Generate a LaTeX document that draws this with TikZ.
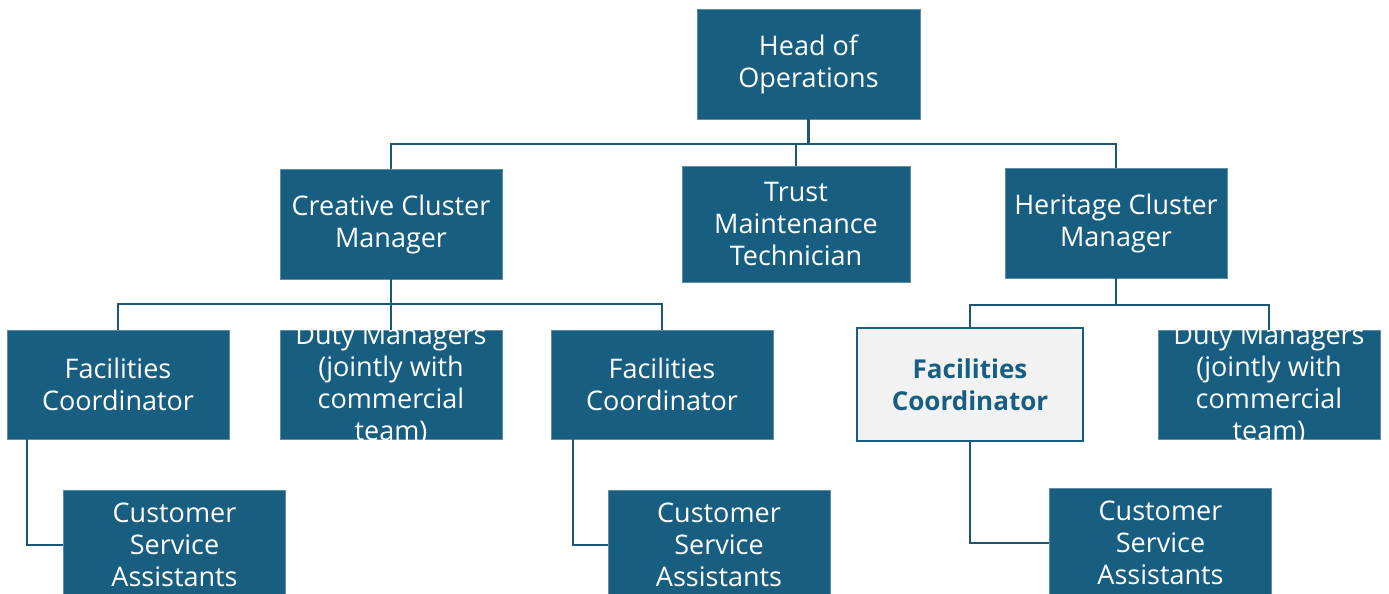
\documentclass[tikz,border=0pt]{standalone}
\usepackage{fontspec}
\setmainfont{Open Sans}
\definecolor{boxblue}{RGB}{23,94,128}
\definecolor{lineblue}{RGB}{28,88,118}
\definecolor{hlfill}{RGB}{242,242,242}
\tikzset{
  box/.style={rectangle, fill=boxblue, draw=boxblue!70!white, line width=0.8pt, inner sep=0pt,
    minimum width=222pt, minimum height=110pt, text=white, align=center,
    font=\fontsize{27}{32}\selectfont},
  boxtext/.style={inner sep=0pt, text=white, align=center, font=\fontsize{27}{32}\selectfont},
  hlbox/.style={box, fill=hlfill, draw=boxblue, line width=2.2pt, text=boxblue,
    font=\fontsize{26}{32}\selectfont\bfseries},
  conn/.style={draw=lineblue, line width=2.6pt}
}
\begin{document}
\begin{tikzpicture}[x=1pt,y=-1pt]
\path[use as bounding box] (0,0) rectangle (1389,594);
\clip (0,0) rectangle (1389,594);
% level 1
\node[box, minimum width=223pt] (head) at (808.5,64) {Head of\\Operations};
% level 2
\node[box] (ccm) at (391,224) {Creative Cluster\\Manager};
\node[box, minimum width=228pt, minimum height=116pt] (tmt) at (796,224) {Trust\\Maintenance\\Technician};
\node[box] (hcm) at (1116,223) {Heritage Cluster\\Manager};
% level 3
\node[box, minimum height=109pt] (fc1) at (118,384.5) {Facilities\\Coordinator};
\node[box, minimum height=109pt] (dm1) at (391,384.5) {};
\begin{scope}
  \clip (dm1.south west) rectangle (dm1.north east);
  \node[boxtext] (dm1t) at (dm1.center) {Duty Managers\\(jointly with\\commercial\\team)};
\end{scope}
\node[box, minimum height=109pt] (fc2) at (662,384.5) {Facilities\\Coordinator};
\node[hlbox, minimum width=226pt, minimum height=113pt] (fc3) at (970,384.5) {Facilities\\Coordinator};
\node[box, minimum height=109pt] (dm2) at (1269,384.5) {};
\begin{scope}
  \clip (dm2.south west) rectangle (dm2.north east);
  \node[boxtext] (dm2t) at (dm2.center) {Duty Managers\\(jointly with\\commercial\\team)};
\end{scope}
% level 4
\node[box] (csa1) at (174.5,545) {Customer\\Service\\Assistants};
\node[box] (csa2) at (719,545) {Customer\\Service\\Assistants};
\node[box] (csa3) at (1160.5,543) {Customer\\Service\\Assistants};
% connectors
\coordinate (j1) at (808.5,144);
\draw[conn] (head.south) -- (j1);
\draw[conn] (j1) -| (ccm.north);
\draw[conn] (j1) -| (hcm.north);
\draw[conn] (tmt.north) -- (tmt.north |- j1);
\coordinate (j2) at (391,304);
\draw[conn] (ccm.south) -- (j2);
\draw[conn] (j2) -| (fc1.north);
\draw[conn] (j2) -| (fc2.north);
\draw[conn] (dm1.north) -- (j2);
\coordinate (j3) at (1116,305);
\draw[conn] (hcm.south) -- (j3);
\draw[conn] (j3) -| (fc3.north);
\draw[conn] (j3) -| (dm2.north);
\draw[conn] ([xshift=-91pt]fc1.south) |- (csa1.west);
\draw[conn] ([xshift=-89pt]fc2.south) |- (csa2.west);
\draw[conn] (fc3.south) |- (csa3.west);
\end{tikzpicture}
\end{document}
